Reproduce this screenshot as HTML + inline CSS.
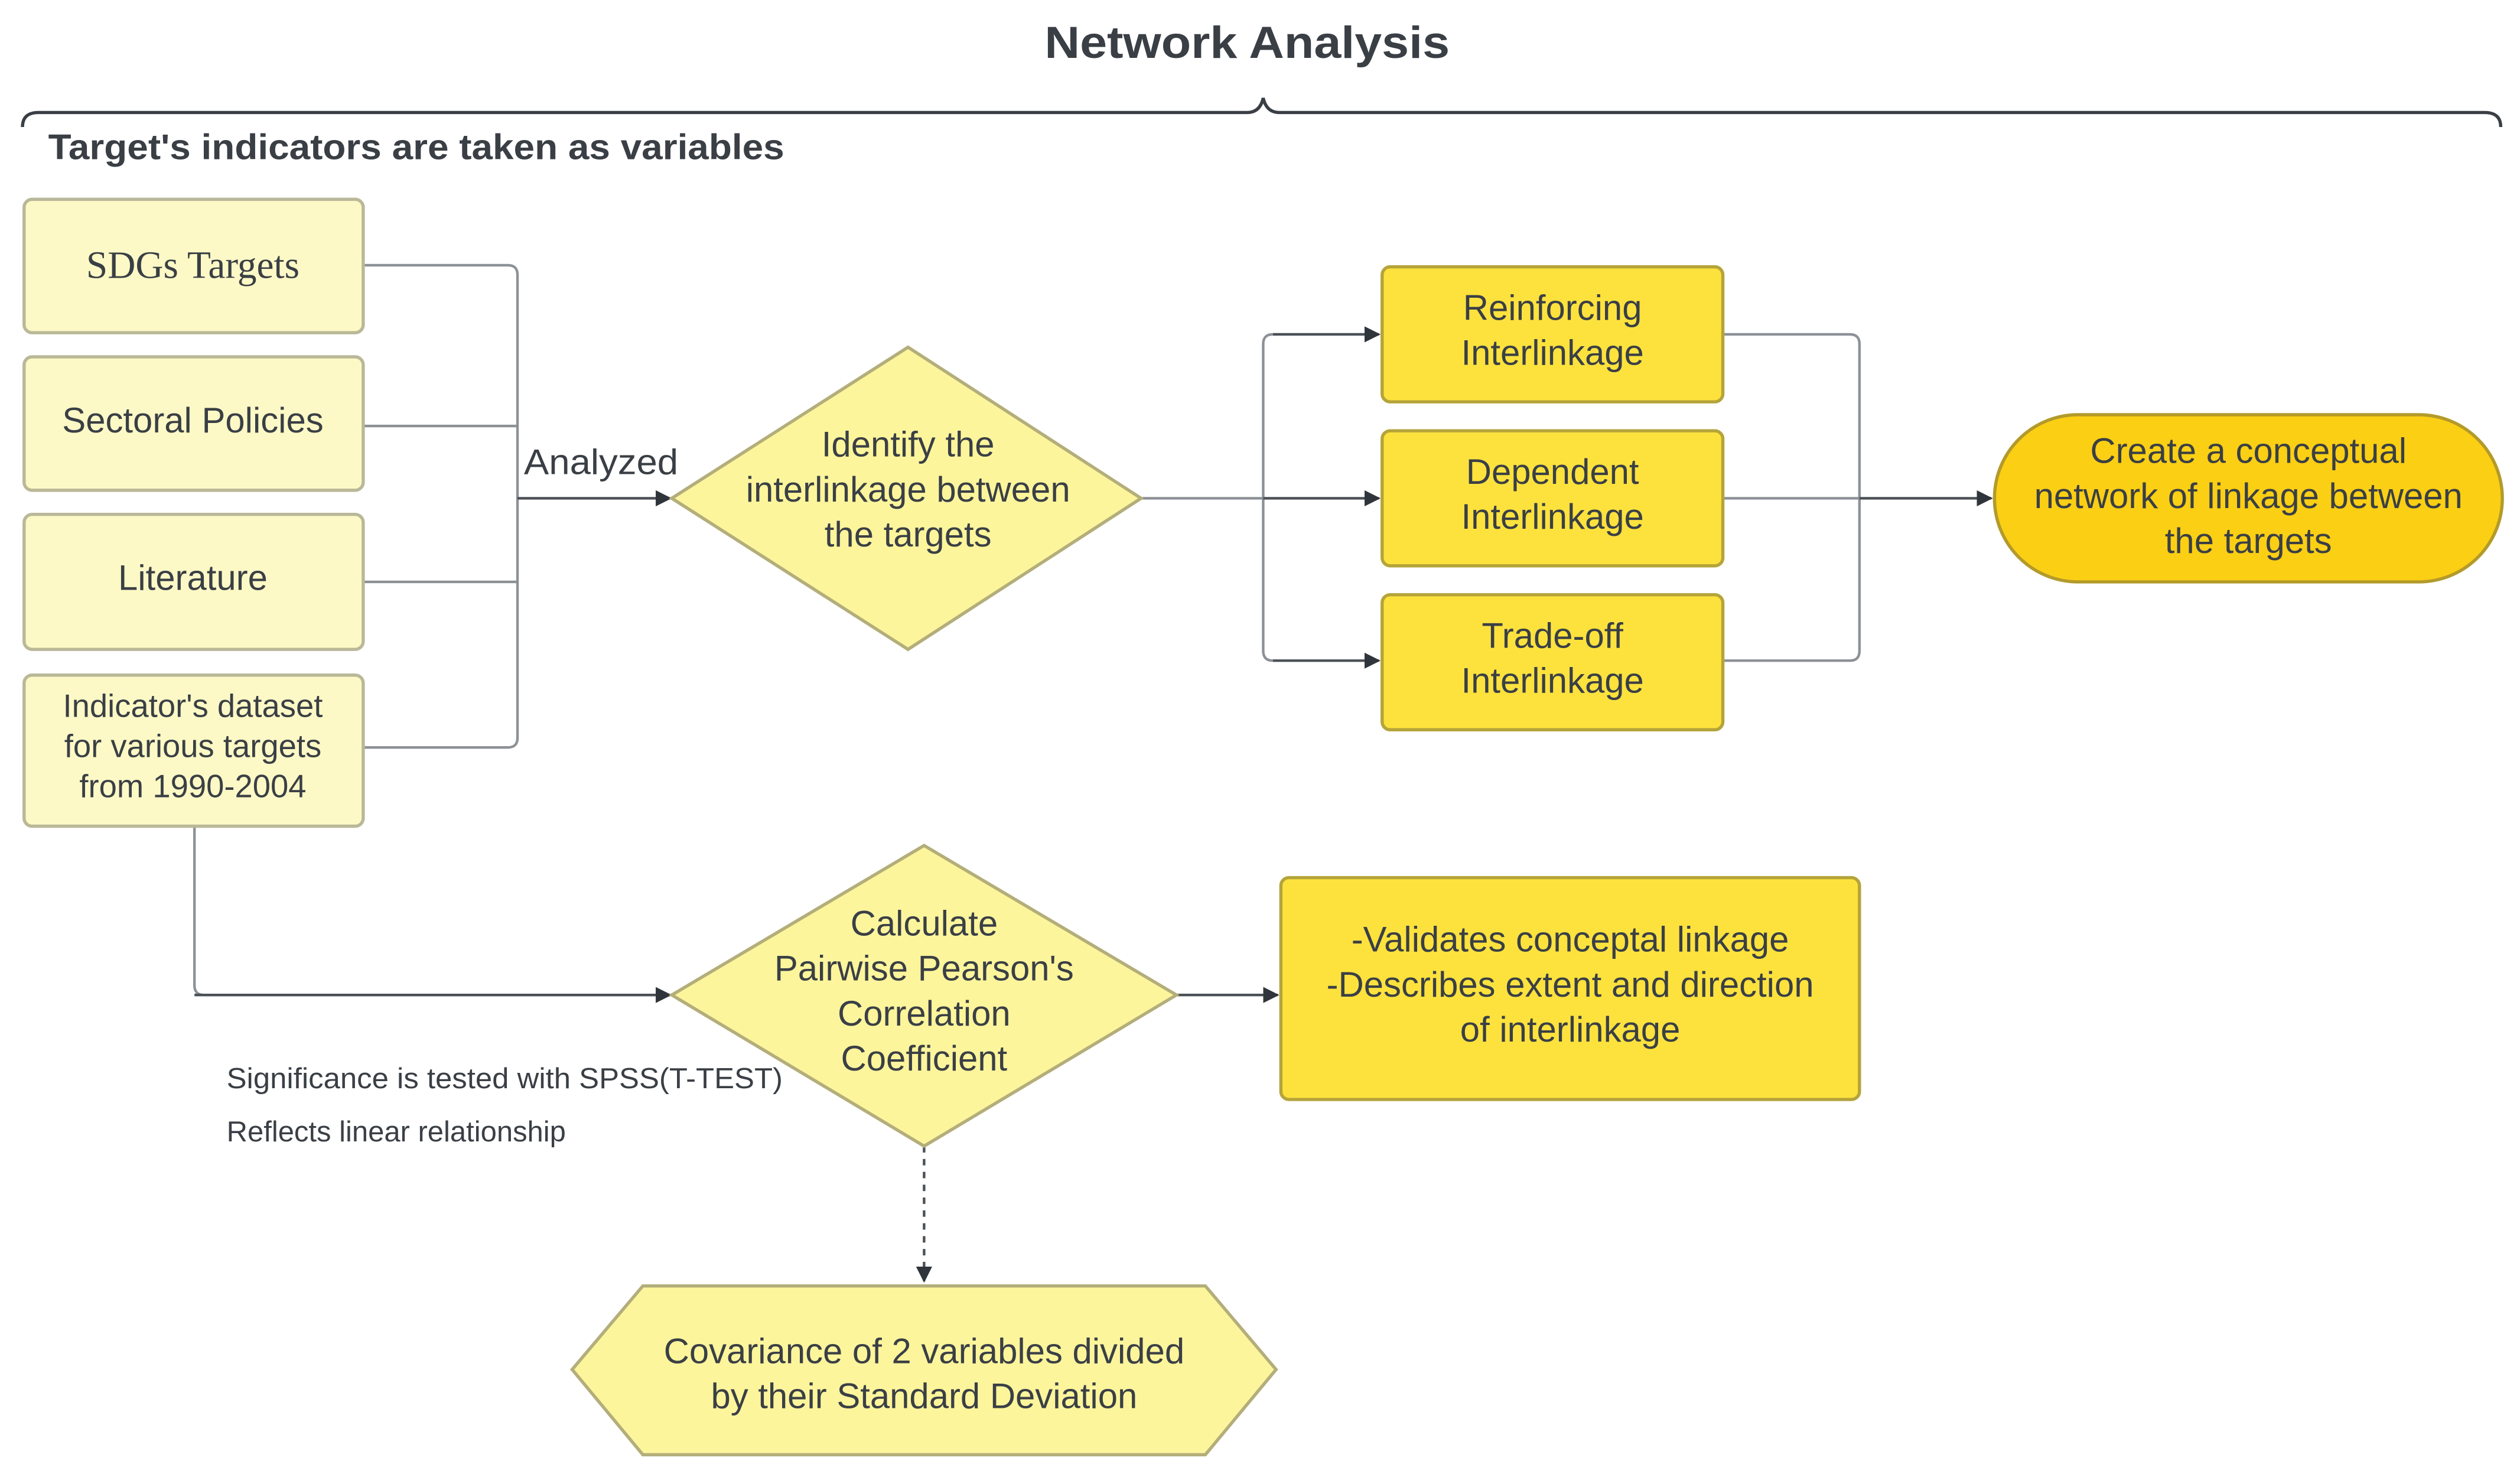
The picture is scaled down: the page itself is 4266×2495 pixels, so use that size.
<!DOCTYPE html>
<html><head><meta charset="utf-8"><style>
html,body{margin:0;padding:0;background:#fff;}
svg{display:block;}
text{font-family:"Liberation Sans",sans-serif;fill:#3a3f45;}
text.serif{font-family:"Liberation Serif",serif;}
</style></head><body>
<svg width="4266" height="2495" viewBox="0 0 1568 917" preserveAspectRatio="none" xmlns="http://www.w3.org/2000/svg">
<defs>
<marker id="ar" markerWidth="10" markerHeight="10" refX="9" refY="5" orient="auto" markerUnits="userSpaceOnUse">
<path d="M0,0 L10,5 L0,10 Z" fill="#2f353b"/></marker>
</defs>
<rect width="1568" height="917" fill="#fff"/>
<text x="650" y="36" font-size="28" font-weight="bold" textLength="252" lengthAdjust="spacingAndGlyphs">Network Analysis</text>
<path d="M14,79 Q14,70 24,70 L776,70 Q784,70 786,61 Q788,70 796,70 L1546,70 Q1556,70 1556,79" fill="none" stroke="#3a3f45" stroke-width="2"/>
<text x="30" y="99" font-size="22" font-weight="bold" textLength="458" lengthAdjust="spacingAndGlyphs">Target's indicators are taken as variables</text>

<g fill="none" stroke="#8c9196" stroke-width="1.6">
<path d="M226,165 H316 Q322,165 322,171 V459 Q322,465 316,465 H226"/>
<path d="M226,265 H322 M226,362 H322"/>
<path d="M710,310 H786 M786,310 V214 Q786,208 792,208 M786,310 V405 Q786,411 792,411"/>
<path d="M1072,208 H1151 Q1157,208 1157,214 V405 Q1157,411 1151,411 H1072 M1072,310 H1157"/>
<path d="M121,514 V613 Q121,619 127,619 H410"/>
</g>
<g stroke="#4a5056" stroke-width="1.6" fill="none" marker-end="url(#ar)">
<path d="M322,310 H417"/>
<path d="M792,208 H858"/>
<path d="M786,310 H858"/>
<path d="M792,411 H858"/>
<path d="M1157,310 H1239"/>
<path d="M121,619 H417"/>
<path d="M732,619 H795"/>
<path d="M575,713 V797" stroke-dasharray="4,4"/>
</g>
<text x="326" y="295" font-size="22" textLength="96" lengthAdjust="spacingAndGlyphs">Analyzed</text>

<g fill="#fdf9c6" stroke="#b9b898" stroke-width="2">
<rect x="15" y="124" width="211" height="83" rx="5"/>
<rect x="15" y="222" width="211" height="83" rx="5"/>
<rect x="15" y="320" width="211" height="84" rx="5"/>
<rect x="15" y="420" width="211" height="94" rx="5"/>
</g>
<g fill="#fdf59c" stroke="#b3ae7a" stroke-width="2">
<polygon points="418,310 565,216 710,310 565,404"/>
<polygon points="418,619 575,526 732,619 575,713"/>
<polygon points="356,852 400,800 750,800 794,852 750,905 400,905"/>
</g>
<g fill="#fde23e" stroke="#b5a43a" stroke-width="2">
<rect x="860" y="166" width="212" height="84" rx="5"/>
<rect x="860" y="268" width="212" height="84" rx="5"/>
<rect x="860" y="370" width="212" height="84" rx="5"/>
<rect x="797" y="546" width="360" height="138" rx="5"/>
</g>
<rect x="1241" y="258" width="316" height="104" rx="52" fill="#fbcf14" stroke="#b39a2a" stroke-width="2"/>

<g font-size="22" text-anchor="middle">
<text x="120" y="173" class="serif" font-size="24">SDGs Targets</text>
<text x="120" y="269">Sectoral Policies</text>
<text x="120" y="367">Literature</text>
<text x="120" y="446" font-size="20">Indicator's dataset</text>
<text x="120" y="471" font-size="20">for various targets</text>
<text x="120" y="496" font-size="20">from 1990-2004</text>
<text x="565" y="284">Identify the</text>
<text x="565" y="312">interlinkage between</text>
<text x="565" y="340">the targets</text>
<text x="966" y="199">Reinforcing</text>
<text x="966" y="227">Interlinkage</text>
<text x="966" y="301">Dependent</text>
<text x="966" y="329">Interlinkage</text>
<text x="966" y="403">Trade-off</text>
<text x="966" y="431">Interlinkage</text>
<text x="1399" y="288">Create a conceptual</text>
<text x="1399" y="316">network of linkage between</text>
<text x="1399" y="344">the targets</text>
<text x="575" y="582">Calculate</text>
<text x="575" y="610">Pairwise Pearson's</text>
<text x="575" y="638">Correlation</text>
<text x="575" y="666">Coefficient</text>
<text x="977" y="592">-Validates conceptal linkage</text>
<text x="977" y="620">-Describes extent and direction</text>
<text x="977" y="648">of interlinkage</text>
<text x="575" y="848">Covariance of 2 variables divided</text>
<text x="575" y="876">by their Standard Deviation</text>
</g>
<text x="141" y="677" font-size="18" fill="#55595e" textLength="346" lengthAdjust="spacingAndGlyphs">Significance is tested with SPSS(T-TEST)</text>
<text x="141" y="710" font-size="18" fill="#55595e">Reflects linear relationship</text>
</svg>
</body></html>
